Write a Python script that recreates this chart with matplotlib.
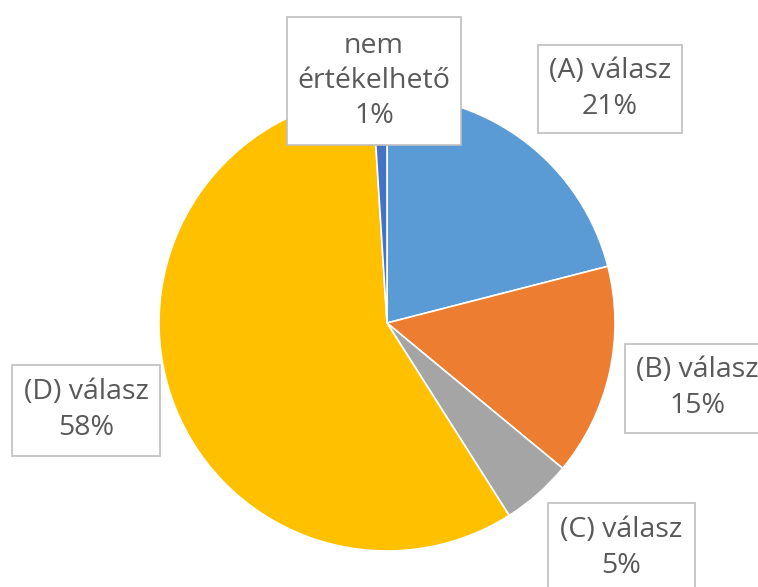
import matplotlib
matplotlib.use('Agg')
import matplotlib.pyplot as plt
import matplotlib.patches as patches

labels = ['(A) válasz', '(B) válasz', '(C) válasz', '(D) válasz', 'nem\nértékelhető']
values = [21, 15, 5, 58, 1]
colors = ['#5B9BD5', '#ED7D31', '#A5A5A5', '#FFC000', '#4472C4']

# label box centres and sizes in pixels (x, y from top)
box_centers = [(610, 89), (697, 388), (621, 548), (86, 410), (374, 81)]
box_sizes = [(144, 88), (144, 89), (147, 90), (148, 91), (174, 128)]

W, H = 758, 587
fig = plt.figure(figsize=(W / 100, H / 100), dpi=100)
ax = fig.add_axes([0, 0, 1, 1])

cx, cy, r = 387, H - 323, 228
ax.pie(values, colors=colors, startangle=90, counterclock=False,
       center=(cx, cy), radius=r, frame=True,
       wedgeprops=dict(edgecolor='white', linewidth=1.2))
ax.set_xlim(0, W)
ax.set_ylim(0, H)
ax.set_aspect('equal')
ax.axis('off')

total = sum(values)
for lab, v, (bx, by), (bw, bh) in zip(labels, values, box_centers, box_sizes):
    y = H - by
    rect = patches.Rectangle((bx - bw / 2, y - bh / 2), bw, bh,
                             facecolor='white', edgecolor='#BFBFBF', linewidth=1.2, zorder=5)
    ax.add_patch(rect)
    ax.text(bx, y, f'{lab}\n{round(100 * v / total)}%', ha='center', va='center',
            fontsize=20.5, color='#595959', family='Open Sans', linespacing=1.35, zorder=6)

fig.savefig('out.png', dpi=100)
